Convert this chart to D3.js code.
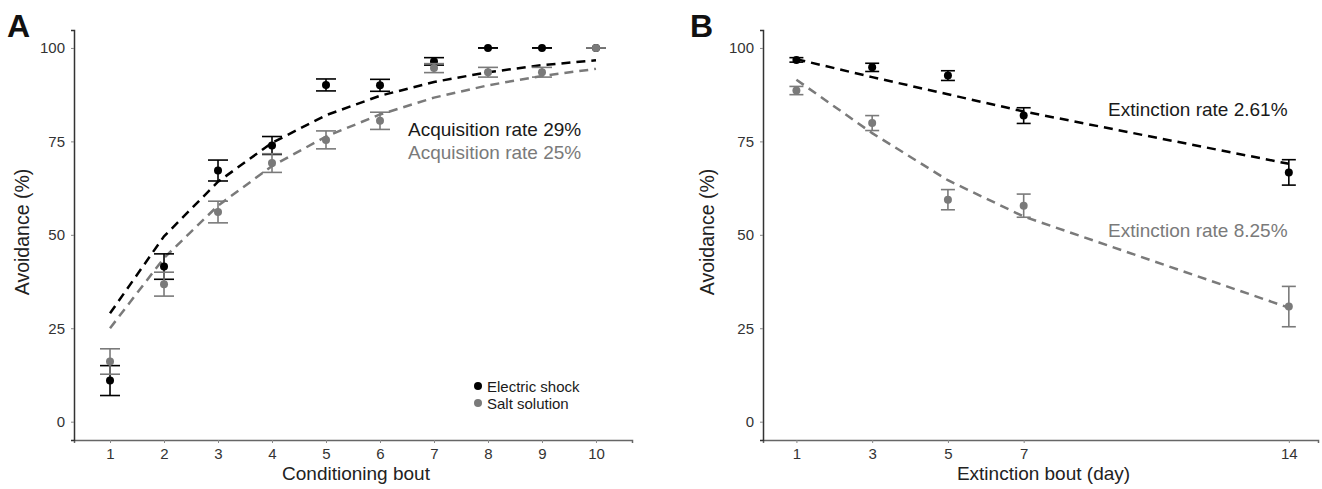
<!DOCTYPE html>
<html>
<head>
<meta charset="utf-8">
<script src="https://cdn.jsdelivr.net/npm/d3@7"></script>
<style>
  body{margin:0;background:#fff;}
  svg text{font-family:"Liberation Sans", Arial, sans-serif;}
</style>
</head>
<body>
<svg id="fig" width="1322" height="489"></svg>
<script>
// Panel A: conditioning
var bouts=[1,2,3,4,5,6,7,8,9,10];
var shockAcq=[11,41.5,67.2,73.9,90.1,90,96.4,100,100,100];
var shockAcqSE=[4,3.4,2.8,2.4,1.6,1.6,1,0,0,0];
var saltAcq=[16.1,36.8,56.1,69.2,75.4,80.5,94.6,93.5,93.5,100];
var saltAcqSE=[3.4,3.2,2.9,2.5,2.4,2.3,1.2,1.3,1.3,0];
var shockAcqFit=[29,49.6,64.2,74.6,82,87.2,90.9,93.5,95.4,96.7];
var saltAcqFit=[25,43.8,57.8,68.4,76.3,82.2,86.7,90,92.5,94.4];

// Panel B: extinction
var days=[1,3,5,7,14];
var shockExt=[96.8,94.8,92.6,81.9,66.7];
var shockExtSE=[0.6,1.1,1.3,2.1,3.4];
var saltExt=[88.6,79.9,59.4,57.8,30.8];
var saltExtSE=[1.1,2,2.7,3.1,5.4];
var shockExtFit=[97,92.2,87.6,83,69];
var saltExtFit=[91.5,77.2,64.6,54.9,30.5];

var yTicks=[0,25,50,75,100];
var black="#000", gray="#7a7a7a";

var svg=d3.select("#fig");

/*shared y scale*/
var yScale=d3.scaleLinear().domain([-4.9,104.8]).range([440,30]);

function drawPanel(opt){
  var xScale=d3.scaleLinear().domain(opt.xdom).range(opt.xrange);
  var g=svg.append("g");

  // axes
  var xAxis=d3.axisBottom(xScale).tickValues(opt.xs).tickSize(3).tickPadding(5).tickFormat(d3.format("d"));
  var yAxis=d3.axisLeft(yScale).tickValues(yTicks).tickSize(3).tickPadding(6);

  var gx=g.append("g").attr("transform","translate(0,440)").call(xAxis);
  gx.select(".domain").attr("stroke","#666").attr("stroke-width",1.5);
  gx.selectAll(".tick line").attr("stroke","#888");
  gx.selectAll("text").attr("fill","#333").style("font-size","15px");

  var gy=g.append("g").attr("transform","translate("+opt.xrange[0]+",0)").call(yAxis);
  gy.select(".domain").attr("stroke","#333").attr("stroke-width",1.5);
  gy.selectAll(".tick line").attr("stroke","#888");
  gy.selectAll("text").attr("fill","#333").style("font-size","15px");

  // axis titles
  g.append("text")
    .text(opt.xlabel)
    .attr("x",(opt.xrange[0]+opt.xrange[1])/2+3)
    .attr("y",480)
    .attr("text-anchor","middle")
    .attr("fill","#222")
    .style("font-size","19px");

  g.append("text")
    .text("Avoidance (%)")
    .attr("transform","translate("+opt.ylabelX+",232) rotate(-90)")
    .attr("text-anchor","middle")
    .attr("fill","#222")
    .style("font-size","19.5px");

  // panel letter
  g.append("text")
    .text(opt.letter)
    .attr("x",opt.letterX)
    .attr("y",37)
    .attr("font-weight","bold")
    .attr("fill","#111")
    .style("font-size","32px");

  var fitLine=d3.line()
    .x(function(d){return xScale(d.x);})
    .y(function(d){return yScale(d.y);});

  // series, gray drawn over black like the figure
  opt.series.forEach(function(s){
    var pts=opt.xs.map(function(x,i){return {x:x,y:s.fit[i]};});
    g.append("path")
      .datum(pts)
      .attr("d",fitLine)
      .attr("fill","none")
      .attr("stroke",s.color)
      .attr("stroke-width",2.5)
      .attr("stroke-dasharray","9,6");
  });

  opt.series.forEach(function(s){
    var data=opt.xs.map(function(x,i){return {x:x,m:s.mean[i],se:s.se[i]};});
    var eb=g.append("g").attr("stroke",s.color).attr("stroke-width",1.6);
    eb.selectAll(".v").data(data).enter().append("line")
      .attr("x1",function(d){return xScale(d.x);})
      .attr("x2",function(d){return xScale(d.x);})
      .attr("y1",function(d){return yScale(d.m-d.se);})
      .attr("y2",function(d){return yScale(d.m+d.se);});
    [-1,1].forEach(function(sign){
      eb.selectAll(".c"+sign).data(data).enter().append("line")
        .attr("x1",function(d){return xScale(d.x)-opt.cap;})
        .attr("x2",function(d){return xScale(d.x)+opt.cap;})
        .attr("y1",function(d){return yScale(d.m+sign*d.se);})
        .attr("y2",function(d){return yScale(d.m+sign*d.se);});
    });
    g.append("g").selectAll("circle").data(data).enter().append("circle")
      .attr("cx",function(d){return xScale(d.x);})
      .attr("cy",function(d){return yScale(d.m);})
      .attr("r",4)
      .attr("fill",s.color);
  });

  // rate annotations
  opt.notes.forEach(function(n){
    g.append("text")
      .text(n.text)
      .attr("x",n.x)
      .attr("y",n.y)
      .attr("fill",n.color)
      .style("font-size","19px");
  });

  return g;
}

var gA=drawPanel({
  letter:"A", letterX:7,
  xs:bouts, xdom:[0.333,10.667], xrange:[74,632],
  xlabel:"Conditioning bout", ylabelX:29, cap:10,
  series:[
    {mean:shockAcq,se:shockAcqSE,fit:shockAcqFit,color:black},
    {mean:saltAcq,se:saltAcqSE,fit:saltAcqFit,color:gray}
  ],
  notes:[
    {text:"Acquisition rate 29%",x:408,y:136,color:"#1a1a1a"},
    {text:"Acquisition rate 25%",x:408,y:159,color:gray}
  ]
});

drawPanel({
  letter:"B", letterX:690,
  xs:days, xdom:[0.118,14.77], xrange:[763,1318],
  xlabel:"Extinction bout (day)", ylabelX:714, cap:7,
  series:[
    {mean:shockExt,se:shockExtSE,fit:shockExtFit,color:black},
    {mean:saltExt,se:saltExtSE,fit:saltExtFit,color:gray}
  ],
  notes:[
    {text:"Extinction rate 2.61%",x:1108,y:116,color:"#1a1a1a"},
    {text:"Extinction rate 8.25%",x:1108,y:237,color:gray}
  ]
});

/*legend in panel A*/
var legend=[{label:"Electric shock",color:black},{label:"Salt solution",color:gray}];
var lg=gA.append("g").attr("transform","translate(478,386)");
legend.forEach(function(l,i){
  lg.append("circle").attr("cx",0).attr("cy",i*17).attr("r",4).attr("fill",l.color);
  lg.append("text").text(l.label).attr("x",9).attr("y",i*17+5.5)
    .attr("fill","#1a1a1a").style("font-size","15px");
});
</script>
</body>
</html>
